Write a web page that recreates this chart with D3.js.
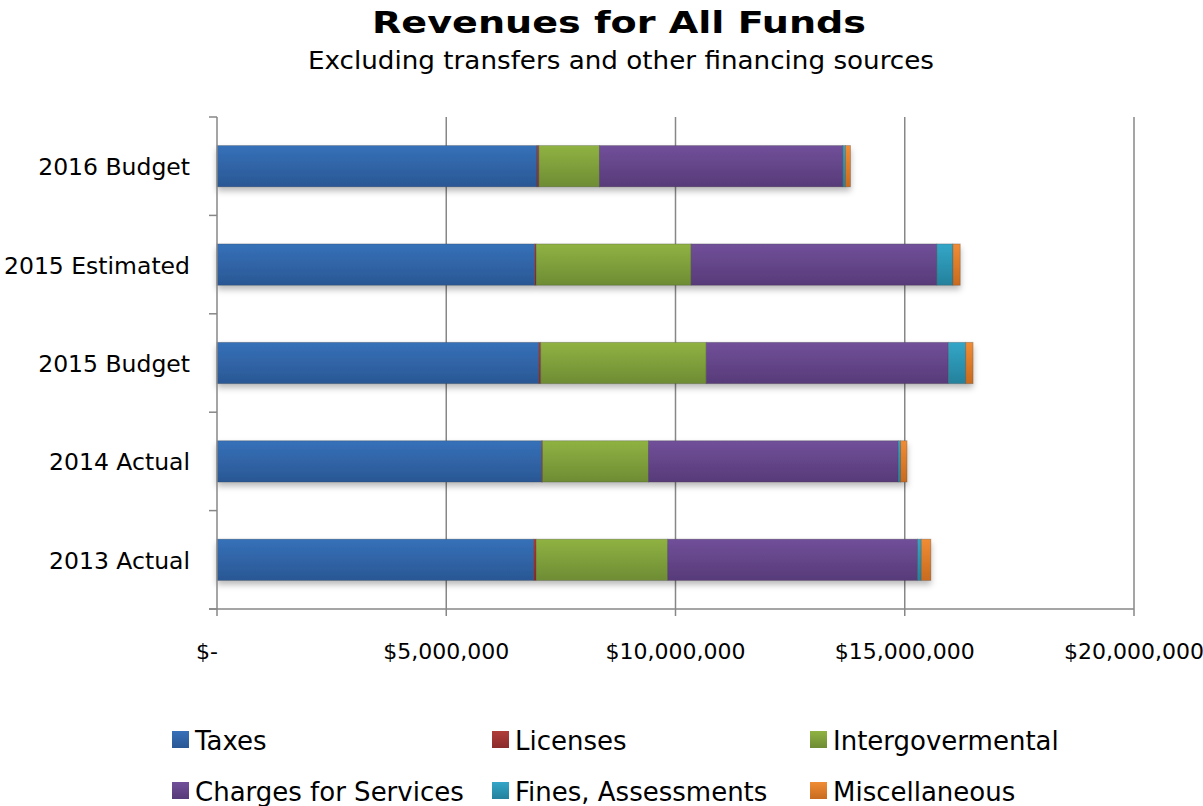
<!DOCTYPE html>
<html>
<head>
<meta charset="utf-8">
<script src="https://cdn.jsdelivr.net/npm/d3@7"></script>
<style>
  html, body { margin: 0; padding: 0; background: #fff; }
  svg { display: block; font-family: "DejaVu Sans", "Open Sans", sans-serif; }
</style>
</head>
<body>
<svg id="chart" width="1203" height="806"></svg>
<script>
// Fiscal periods, top to bottom
const categories = ["2016 Budget", "2015 Estimated", "2015 Budget", "2014 Actual", "2013 Actual"];

// Revenue by source, dollars, in the same order as categories
const taxes       = [6980000, 6930000, 7020000, 7080000, 6910000];
const licenses    = [  40000,   30000,   40000,   20000,   50000];
const intergov    = [1320000, 3380000, 3610000, 2310000, 2870000];
const charges     = [5310000, 5360000, 5280000, 5450000, 5450000];
const fines       = [  57000,  350000,  380000,   50000,   80000];
const misc        = [ 110000,  160000,  160000,  140000,  210000];

const seriesNames = ["Taxes", "Licenses", "Intergovermental", "Charges for Services", "Fines, Assessments", "Miscellaneous"];
const seriesValues = [taxes, licenses, intergov, charges, fines, misc];
const xTicks = [0, 5000000, 10000000, 15000000, 20000000];

// top / bottom shades for each series fill
const shades = [
  ["#3671b9", "#2a5794"],
  ["#b03d3a", "#8a2b2b"],
  ["#8fb242", "#6e8c34"],
  ["#71509a", "#573a78"],
  ["#33a6c8", "#25819c"],
  ["#f08c35", "#c86b1f"]
];

const svg = d3.select("#chart");
const defs = svg.append("defs");

shades.forEach((s, i) => {
  const g = defs.append("linearGradient")
    .attr("id", "grad" + i)
    .attr("x1", 0).attr("y1", 0).attr("x2", 0).attr("y2", 1);
  g.append("stop").attr("offset", "0%").attr("stop-color", s[0]);
  g.append("stop").attr("offset", "100%").attr("stop-color", s[1]);
});

const shadow = defs.append("filter").attr("id", "shadow")
  .attr("x", "-5%").attr("y", "-20%").attr("width", "110%").attr("height", "160%");
shadow.append("feDropShadow")
  .attr("dx", 0).attr("dy", 4).attr("stdDeviation", 3)
  .attr("flood-color", "#000").attr("flood-opacity", 0.28);

// Rows of stacked values
const rows = categories.map((c, i) => {
  const r = { category: c };
  seriesNames.forEach((n, j) => { r[n] = seriesValues[j][i]; });
  return r;
});
const stacked = d3.stack().keys(seriesNames)(rows);

const x = d3.scaleLinear().domain([0, 20000000]).range([217, 1134]);
const y = d3.scaleBand().domain(categories).range([117, 609])
  .paddingInner(0.58).paddingOuter(0.29);

const gridColor = "#878787";

// Titles
svg.append("text")
  .attr("x", 619).attr("y", 33)
  .attr("text-anchor", "middle")
  .attr("font-size", 30).attr("font-weight", "bold").attr("fill", "#000")
  .attr("textLength", 494).attr("lengthAdjust", "spacingAndGlyphs")
  .text("Revenues for All Funds");

svg.append("text")
  .attr("x", 621).attr("y", 69)
  .attr("text-anchor", "middle")
  .attr("font-size", 25).attr("fill", "#000")
  .attr("textLength", 626).attr("lengthAdjust", "spacingAndGlyphs")
  .text("Excluding transfers and other financing sources");

// Vertical gridlines with ticks below the axis
svg.append("g").selectAll("line")
  .data(xTicks.slice(1))
  .join("line")
  .attr("x1", d => x(d)).attr("x2", d => x(d))
  .attr("y1", 117).attr("y2", 616)
  .attr("stroke", gridColor).attr("stroke-width", 1.5);

// Bars
const layer = svg.append("g").attr("filter", "url(#shadow)");
stacked.forEach((s, i) => {
  layer.append("g").selectAll("rect")
    .data(s)
    .join("rect")
    .attr("x", d => x(d[0]))
    .attr("y", d => y(d.data.category))
    .attr("width", d => Math.max(0, x(d[1]) - x(d[0])))
    .attr("height", y.bandwidth())
    .attr("fill", "url(#grad" + i + ")")
    .attr("stroke", "rgba(60,60,60,0.35)")
    .attr("stroke-width", 0.8);
});

// Category axis
const yAxis = svg.append("g");
yAxis.append("line")
  .attr("x1", 217).attr("x2", 217).attr("y1", 117).attr("y2", 616)
  .attr("stroke", gridColor).attr("stroke-width", 1.5);
const step = y.step();
const bounds = d3.range(categories.length + 1).map(i => 117 + i * step);
yAxis.selectAll("line.tick")
  .data(bounds)
  .join("line").attr("class", "tick")
  .attr("x1", 209).attr("x2", 217)
  .attr("y1", d => d).attr("y2", d => d)
  .attr("stroke", gridColor).attr("stroke-width", 1.5);
yAxis.selectAll("text")
  .data(categories)
  .join("text")
  .attr("x", 190)
  .attr("y", d => y(d) + y.bandwidth() / 2 + 9)
  .attr("text-anchor", "end")
  .attr("font-size", 23.5).attr("fill", "#000")
  .text(d => d);

// Value axis
svg.append("line")
  .attr("x1", 209).attr("x2", 1134).attr("y1", 609).attr("y2", 609)
  .attr("stroke", gridColor).attr("stroke-width", 1.5);
const fmt = d3.format(",");
svg.append("g").selectAll("text")
  .data(xTicks)
  .join("text")
  .attr("x", d => x(d) + (d === 0 ? -10 : 0))
  .attr("y", 659)
  .attr("text-anchor", "middle")
  .attr("font-size", 22).attr("fill", "#000")
  .text(d => d === 0 ? "$-" : "$" + fmt(d));

// Legend
const legendPos = [
  [172, 740], [492, 740], [810, 740],
  [172, 791], [492, 791], [810, 791]
];
const legend = svg.append("g");
seriesNames.forEach((n, i) => {
  const [lx, ly] = legendPos[i];
  legend.append("rect")
    .attr("x", lx).attr("y", ly - 9)
    .attr("width", 17).attr("height", 17)
    .attr("fill", "url(#grad" + i + ")");
  legend.append("text")
    .attr("x", lx + 23).attr("y", ly + 10)
    .attr("font-size", 26).attr("fill", "#000")
    .text(n);
});
</script>
</body>
</html>
